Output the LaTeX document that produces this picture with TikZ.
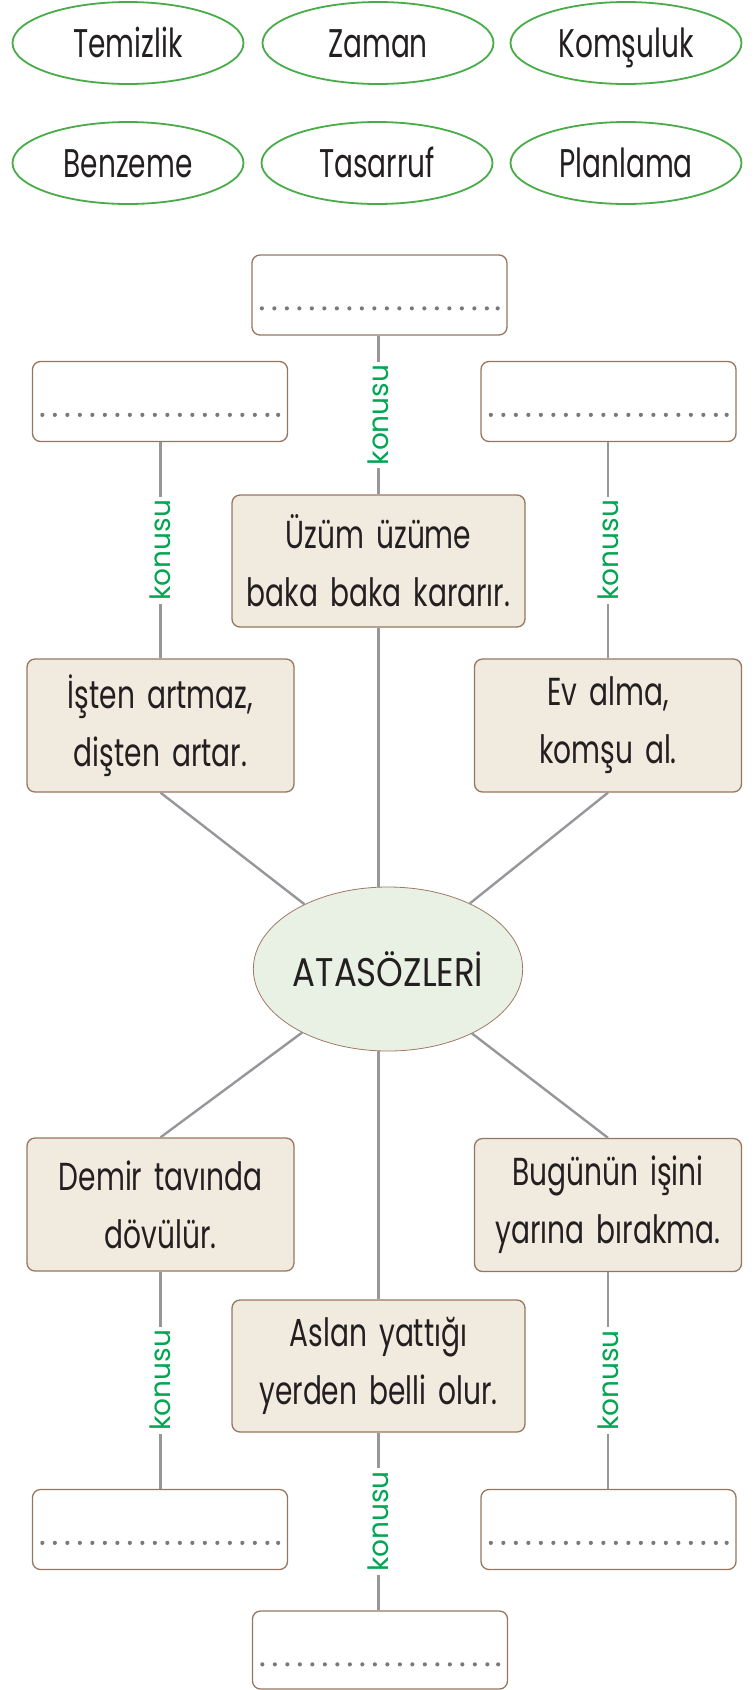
\documentclass[tikz,border=0pt]{standalone}
\usepackage{fontspec}
\usetikzlibrary{shapes.geometric,calc}
\newfontfamily\hand[FakeStretch=0.72,WordSpace=1.6]{Poppins}
\newfontfamily\topicfont[FakeStretch=0.7]{Poppins}
\newfontfamily\titlefont[FakeStretch=0.85]{Poppins}
\newfontfamily\labfont{Poppins}
\definecolor{ovalgreen}{RGB}{72,172,72}
\definecolor{konusugreen}{RGB}{0,166,81}
\definecolor{boxfill}{RGB}{240,234,223}
\definecolor{boxline}{RGB}{150,118,95}
\definecolor{linegray}{RGB}{150,150,155}
\definecolor{ellfill}{RGB}{233,241,228}
\definecolor{ellline}{RGB}{160,120,100}
\definecolor{dotgray}{RGB}{120,120,125}
\definecolor{textblack}{RGB}{35,31,32}
\tikzset{
  topic/.style={ellipse, draw=ovalgreen, line width=1.8pt, fill=white,
    minimum width=231pt, minimum height=82pt, inner sep=0pt,
    text height=28pt, text depth=0pt,
    text=textblack, font=\topicfont\fontsize{40}{44}\selectfont},
  saying/.style={rectangle, rounded corners=8pt, draw=boxline, line width=1.3pt,
    fill=boxfill, minimum width=267pt, minimum height=133pt, inner sep=0pt,
    align=center, text=textblack, font=\hand\fontsize{39}{58}\selectfont},
  widesaying/.style={saying, minimum width=293pt, minimum height=132pt},
  blank/.style={rectangle, rounded corners=8pt, draw=boxline, line width=1.3pt,
    fill=white, minimum width=255pt, minimum height=80pt, inner sep=0pt},
  center ellipse/.style={ellipse, draw=ellline, line width=0.8pt, fill=ellfill,
    minimum width=263pt, minimum height=164pt, inner sep=0pt,
    text=textblack, font=\titlefont\fontsize{40}{44}\selectfont},
  link/.style={draw=linegray, line width=2.4pt},
  konusu/.style={rotate=90, fill=white, inner sep=3pt, text=konusugreen,
    font=\labfont\fontsize{28}{30}\selectfont},
}
\newcommand\blankdots[1]{%
  \foreach \i in {0,...,18}{\fill[dotgray] ($(#1.north west)+(10.5+12.5*\i,54)$) circle (2.1pt);}
  \fill[dotgray] ($(#1.north east)+(-10,54)$) circle (2.1pt);}
\begin{document}
\begin{tikzpicture}[x=1pt,y=-1pt]
\useasboundingbox (0,0) rectangle (755,1690);
% topic ellipses
\node[topic] (t1) at (128,43) {Temizlik};
\node[topic] (t2) at (378,43) {Zaman};
\node[topic] (t3) at (626,43) {Komşuluk};
\node[topic] (t4) at (128,163) {Benzeme};
\node[topic] (t5) at (377,163) {Tasarruf};
\node[topic] (t6) at (626,163) {Planlama};
% boxes
\node[blank] (tb) at (379.5,295) {};
\node[blank] (lb) at (160,401.5) {};
\node[blank] (rb) at (608.5,401.5) {};
\node[widesaying] (uzum) at (378.5,561) {Üzüm üzüme\\baka baka kararır.};
\node[saying] (isten) at (160.5,725.5) {İşten artmaz,\\dişten artar.};
\node[saying] (ev) at (608,725.5) {Ev alma,\\komşu al.};
\node[center ellipse] (ata) at (388,969) {ATASÖZLERİ};
\node[saying] (demir) at (160.5,1204.5) {Demir tavında\\dövülür.};
\node[saying] (bugun) at (608,1205) {Bugünün işini\\yarına bırakma.};
\node[widesaying] (aslan) at (378.5,1366) {Aslan yattığı\\yerden belli olur.};
\node[blank] (lbb) at (160,1529.5) {};
\node[blank] (rbb) at (608.5,1529.5) {};
\node[blank, minimum height=78pt] (bb) at (380,1650) {};
\blankdots{tb}\blankdots{lb}\blankdots{rb}\blankdots{lbb}\blankdots{rbb}\blankdots{bb}
% connectors
\path[link] (uzum.north) -- node[konusu] {konusu} (uzum.north |- tb.south);
\path[link] (isten.north) -- node[konusu] {konusu} (isten.north |- lb.south);
\path[link] (ev.north) -- node[konusu] {konusu} (ev.north |- rb.south);
\path[link] (demir.south) -- node[konusu] {konusu} (demir.south |- lbb.north);
\path[link] (bugun.south) -- node[konusu] {konusu} (bugun.south |- rbb.north);
\path[link] (aslan.south) -- node[konusu] {konusu} (aslan.south |- bb.north);
\path[link] (uzum.south) -- (uzum.south |- ata.north);
\path[link] (aslan.north) -- (aslan.north |- ata.south);
\path[link] (isten.south) -- (ata);
\path[link] (ev.south) -- (ata);
\path[link] (demir.north) -- (ata);
\path[link] (bugun.north) -- (ata);
\end{tikzpicture}
\end{document}
